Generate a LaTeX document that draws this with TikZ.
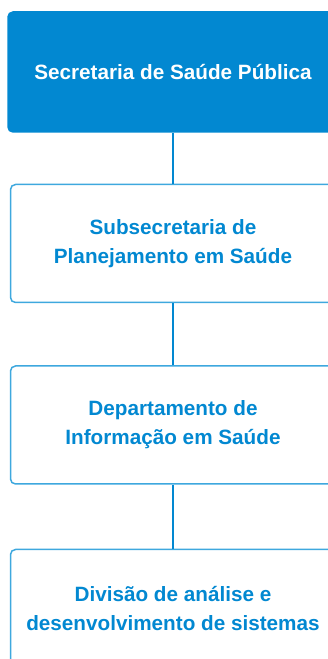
\documentclass[tikz,border=0pt]{standalone}
\usepackage{fontspec}
\setmainfont{Liberation Sans}
\usetikzlibrary{positioning}
\definecolor{orgblue}{RGB}{2,136,209}
\definecolor{orgline}{RGB}{62,168,222}

\begin{document}
\begin{tikzpicture}[x=1pt, y=1pt,
  unit/.style = {draw=orgline, line width=1.5pt, rounded corners=5pt,
    minimum width=325pt, minimum height=118pt, inner sep=0pt,
    align=center, text=orgblue, font=\bfseries\fontsize{20.7}{29}\selectfont},
  head/.style = {unit, draw=orgblue, fill=orgblue, text=white,
    minimum width=330pt, minimum height=120pt},
  link/.style = {draw=orgblue, line width=2pt}]
  \useasboundingbox (0,0) rectangle (328,659);

  \node[head] (sec) at (173,587) {Secretaria de Saúde Pública};
  \node[unit, below=51pt of sec] (subsec) {Subsecretaria de\\Planejamento em Saúde};
  \node[unit, below=62pt of subsec] (dept) {Departamento de\\Informação em Saúde};
  \node[unit, below=64pt of dept] (div) {Divisão de análise e\\desenvolvimento de sistemas};

  % connectors
  \draw[link] (sec.south) -- (subsec.north);
  \draw[link] (subsec.south) -- (dept.north);
  \draw[link] (dept.south) -- (div.north);
\end{tikzpicture}
\end{document}
